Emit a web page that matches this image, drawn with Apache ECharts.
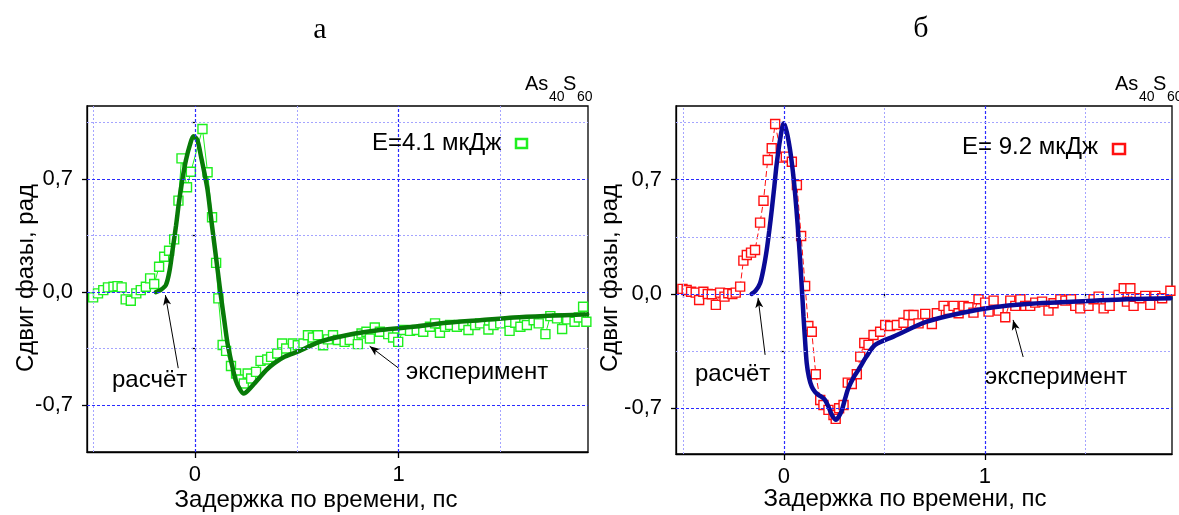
<!DOCTYPE html>
<html>
<head>
<meta charset="utf-8">
<script src="https://cdn.jsdelivr.net/npm/echarts@6.0.0/dist/echarts.min.js"></script>
<style>html,body{margin:0;padding:0;background:#fff;}#c{width:1179px;height:515px;}</style>
</head>
<body>
<div id="c"></div>
<script>
// ---------- DATA ----------
const panelTitles = ['а', 'б'];
const xMajorTicks = [0, 1];
const xMinorTicks = [-0.5, 0.5, 1.5];
const yMajorTicks = [-0.7, 0, 0.7];
const yMinorTicks = [-0.35, 0.35, 1.05];
const legendLabels = ['E=4.1 мкДж', 'E= 9.2 мкДж'];

// panel а : experiment (green squares)
const expA = [
[-0.50,-0.033],[-0.476,-0.008],[-0.45,0.012],[-0.427,0.029],[-0.40,0.033],[-0.38,0.037],[-0.36,0.029],
[-0.34,-0.045],[-0.315,-0.054],[-0.288,-0.008],[-0.266,0.012],[-0.241,0.033],[-0.22,0.085],[-0.20,0.05],
[-0.176,0.157],[-0.151,0.219],[-0.127,0.256],[-0.102,0.326],[-0.081,0.566],[-0.066,0.828],[-0.039,0.649],
[-0.02,0.745],[0.037,1.01],[0.062,0.742],[0.084,0.463],[0.104,0.181],[0.115,-0.039],[0.136,-0.328],
[0.153,-0.364],[0.177,-0.458],[0.202,-0.504],[0.227,-0.541],[0.24,-0.566],[0.259,-0.504],[0.276,-0.535],
[0.30,-0.494],[0.322,-0.426],[0.355,-0.417],[0.374,-0.401],[0.404,-0.38],[0.428,-0.318],[0.448,-0.349],
[0.481,-0.318],[0.505,-0.329],[0.533,-0.318],[0.555,-0.267],[0.579,-0.281],[0.604,-0.267],[0.629,-0.329],
[0.653,-0.293],[0.678,-0.267],[0.702,-0.297],[0.735,-0.308],[0.76,-0.297],[0.80,-0.322],[0.818,-0.256],
[0.842,-0.246],[0.859,-0.287],[0.883,-0.219],[0.908,-0.246],[0.949,-0.26],[0.973,-0.281],[0.998,-0.308],
[1.023,-0.235],[1.056,-0.24],[1.089,-0.235],[1.121,-0.246],[1.154,-0.215],[1.179,-0.194],[1.203,-0.252],
[1.228,-0.215],[1.253,-0.204],[1.286,-0.215],[1.318,-0.204],[1.343,-0.235],[1.376,-0.204],[1.40,-0.194],
[1.441,-0.232],[1.466,-0.204],[1.499,-0.194],[1.545,-0.24],[1.573,-0.19],[1.598,-0.215],[1.63,-0.204],
[1.663,-0.174],[1.688,-0.194],[1.721,-0.26],[1.745,-0.149],[1.778,-0.163],[1.803,-0.229],[1.828,-0.169],
[1.864,-0.184],[1.885,-0.157],[1.906,-0.091],[1.922,-0.184]
];
// panel а : calculation (dark green line)
const fitA = [
[-0.192,0],[-0.17,0.012],[-0.143,0.043],[-0.125,0.13],[-0.11,0.26],[-0.093,0.41],[-0.077,0.57],[-0.06,0.71],
[-0.044,0.818],[-0.025,0.91],[-0.007,0.965],[0.012,0.94],[0.03,0.838],[0.046,0.74],[0.062,0.632],[0.078,0.47],
[0.095,0.30],[0.112,0.13],[0.128,-0.03],[0.144,-0.175],[0.16,-0.318],[0.18,-0.44],[0.20,-0.545],[0.22,-0.60],
[0.24,-0.628],[0.26,-0.61],[0.292,-0.566],[0.32,-0.525],[0.35,-0.483],[0.39,-0.44],[0.44,-0.40],[0.514,-0.364],
[0.612,-0.308],[0.744,-0.267],[0.908,-0.235],[1.072,-0.215],[1.236,-0.19],[1.40,-0.174],[1.565,-0.157],
[1.729,-0.147],[1.926,-0.138]
];
// panel б : experiment (red squares)
const expB = [
[-0.504,0.031],[-0.483,0.024],[-0.461,0.014],[-0.438,0.008],[-0.421,-0.037],[-0.40,0.014],[-0.378,0],
[-0.358,-0.002],[-0.338,-0.067],[-0.317,0.008],[-0.295,-0.016],[-0.276,0.004],[-0.256,0],[-0.239,0.008],
[-0.217,0.045],[-0.201,0.204],[-0.184,0.239],[-0.163,0.253],[-0.143,0.269],[-0.118,0.437],[-0.101,0.571],
[-0.08,0.82],[-0.06,0.892],[-0.043,1.041],[-0.01,0.835],[0.01,0.841],[0.04,0.81],[0.065,0.667],[0.086,0.355],
[0.106,0.049],[0.122,-0.196],[0.139,-0.231],[0.159,-0.492],[0.181,-0.649],[0.197,-0.68],[0.222,-0.71],
[0.247,-0.741],[0.258,-0.765],[0.275,-0.70],[0.297,-0.68],[0.318,-0.543],[0.338,-0.551],[0.363,-0.492],
[0.38,-0.384],[0.40,-0.30],[0.421,-0.312],[0.446,-0.251],[0.479,-0.231],[0.504,-0.19],[0.529,-0.196],
[0.562,-0.19],[0.595,-0.176],[0.62,-0.129],[0.645,-0.129],[0.67,-0.18],[0.703,-0.122],[0.736,-0.184],
[0.761,-0.118],[0.794,-0.073],[0.819,-0.098],[0.844,-0.073],[0.869,-0.118],[0.894,-0.073],[0.918,-0.081],
[0.943,-0.114],[0.968,-0.032],[1.001,-0.053],[1.018,-0.108],[1.043,-0.041],[1.068,-0.102],[1.101,-0.143],
[1.126,-0.041],[1.151,-0.073],[1.176,-0.032],[1.20,-0.073],[1.225,-0.073],[1.25,-0.053],[1.284,-0.047],
[1.316,-0.102],[1.341,-0.057],[1.375,-0.032],[1.40,-0.041],[1.428,-0.032],[1.449,-0.073],[1.474,-0.088],
[1.515,-0.073],[1.54,-0.032],[1.565,-0.016],[1.59,-0.088],[1.62,-0.073],[1.665,-0.006],[1.69,0.035],
[1.706,-0.047],[1.723,0.035],[1.739,-0.073],[1.769,-0.026],[1.797,-0.012],[1.822,-0.067],[1.847,-0.012],
[1.881,-0.026],[1.922,0.02]
];
// panel б : calculation (navy line)
const fitB = [
[-0.16,0.0],[-0.14,0.02],[-0.118,0.065],[-0.1,0.16],[-0.085,0.269],[-0.072,0.39],[-0.06,0.514],[-0.047,0.66],
[-0.035,0.80],[-0.018,0.95],[0,1.045],[0.015,0.99],[0.031,0.882],[0.044,0.76],[0.056,0.617],[0.069,0.42],
[0.081,0.208],[0.09,0.03],[0.098,-0.139],[0.106,-0.29],[0.114,-0.424],[0.125,-0.51],[0.139,-0.568],
[0.155,-0.60],[0.172,-0.618],[0.19,-0.632],[0.205,-0.649],[0.222,-0.69],[0.239,-0.741],[0.259,-0.771],
[0.274,-0.75],[0.289,-0.71],[0.305,-0.64],[0.321,-0.577],[0.345,-0.515],[0.371,-0.465],[0.41,-0.385],
[0.454,-0.312],[0.545,-0.261],[0.711,-0.17],[0.877,-0.118],[1.043,-0.081],[1.209,-0.061],[1.375,-0.051],
[1.54,-0.041],[1.706,-0.032],[1.922,-0.026]
];
// arrows (annotation) in data coordinates: [from, to]
const arrowsA = [[[-0.082,-0.471],[-0.145,-0.019]], [[1.0,-0.471],[0.858,-0.335]]];
const arrowsB = [[[-0.093,-0.373],[-0.128,-0.024]], [[1.19,-0.386],[1.14,-0.159]]];

// ---------- CHART ----------
const FONT = 'Liberation Sans, Arial, sans-serif';
const chart = echarts.init(document.getElementById('c'), null, {renderer: 'canvas'});

const grids = [
  {left: 87, top: 106, width: 501, height: 346, xMin: -0.53, xMax: 1.93, yMin: -0.99, yMax: 1.152},
  {left: 676, top: 106, width: 496, height: 348, xMin: -0.536, xMax: 1.93, yMin: -0.98, yMax: 1.151}
];

const fmt = v => (Math.abs(v) < 1e-9 ? '0,0' : v.toFixed(1).replace('.', ','));

const option = {
  animation: false,
  backgroundColor: '#fff',
  grid: grids.map(g => ({left: g.left, top: g.top, width: g.width, height: g.height, show: true,
    borderColor: '#000', borderWidth: 1.3, backgroundColor: 'transparent'})),
  xAxis: [], yAxis: [], series: [], graphic: []
};

grids.forEach((g, i) => {
  const xi = option.xAxis.length, yi = option.yAxis.length;
  option.xAxis.push({
    type: 'value', gridIndex: i, min: g.xMin, max: g.xMax, position: 'bottom',
    axisLine: {show: true, onZero: false, lineStyle: {color: '#000', width: 1.3}},
    axisTick: {show: true, customValues: xMajorTicks, length: 6, lineStyle: {color: '#000', width: 1.3}},
    axisLabel: {show: true, customValues: xMajorTicks, margin: 12, color: '#000', fontSize: 22, fontFamily: FONT,
      formatter: v => String(Math.round(v))},
    splitLine: {show: false}
  });
  option.xAxis.push({
    type: 'value', gridIndex: i, min: g.xMin, max: g.xMax, position: 'bottom',
    axisLine: {show: false},
    axisTick: {show: true, customValues: xMinorTicks, length: 4, lineStyle: {color: '#000', width: 1.2}},
    axisLabel: {show: false}, splitLine: {show: false}
  });
  option.yAxis.push({
    type: 'value', gridIndex: i, min: g.yMin, max: g.yMax, position: 'left',
    axisLine: {show: true, onZero: false, lineStyle: {color: '#000', width: 1.3}},
    axisTick: {show: true, customValues: yMajorTicks, length: 5, lineStyle: {color: '#000', width: 1.3}},
    axisLabel: {show: true, customValues: yMajorTicks, margin: 14, color: '#000', fontSize: 22, fontFamily: FONT,
      formatter: fmt},
    splitLine: {show: false}
  });
  option.yAxis.push({
    type: 'value', gridIndex: i, min: g.yMin, max: g.yMax, position: 'left',
    axisLine: {show: false},
    axisTick: {show: true, customValues: yMinorTicks, length: 3, lineStyle: {color: '#000', width: 1.2}},
    axisLabel: {show: false}, splitLine: {show: false}
  });

  const major = {color: '#2a2aff', width: 1.2, type: [3, 2], opacity: 1};
  const minor = {color: '#a4a4ff', width: 1, type: [2, 2], opacity: 1};
  const gl = [];
  xMajorTicks.forEach(v => gl.push({xAxis: v, lineStyle: major}));
  xMinorTicks.forEach(v => gl.push({xAxis: v, lineStyle: minor}));
  yMajorTicks.forEach(v => gl.push({yAxis: v, lineStyle: major}));
  yMinorTicks.forEach(v => gl.push({yAxis: v, lineStyle: minor}));

  const exp = i === 0 ? expA : expB;
  const fit = i === 0 ? fitA : fitB;
  const arrows = i === 0 ? arrowsA : arrowsB;
  const expColor = i === 0 ? '#1fef1f' : '#ff1010';
  const fitColor = i === 0 ? '#087a08' : '#0a0a96';

  // grid lines
  option.series.push({
    type: 'line', xAxisIndex: xi, yAxisIndex: yi, z: 1, silent: true,
    data: [[g.xMin, 0], [g.xMax, 0]], symbol: 'none', lineStyle: {opacity: 0},
    markLine: {silent: true, symbol: ['none', 'none'], label: {show: false}, data: gl, animation: false,
      emphasis: {disabled: true}}
  });
  // experiment
  option.series.push({
    type: 'line', xAxisIndex: xi, yAxisIndex: yi, z: 3, data: exp,
    symbol: 'rect', symbolSize: 9, showAllSymbol: true,
    itemStyle: {color: '#fff', borderColor: expColor, borderWidth: 1.4},
    lineStyle: {color: expColor, width: 1, type: i === 0 ? 'solid' : [6, 3]}
  });
  // calculation
  option.series.push({
    type: 'line', xAxisIndex: xi, yAxisIndex: yi, z: 4, data: fit, smooth: 0.3,
    symbol: 'none', lineStyle: {color: fitColor, width: 4.5, cap: 'round'}
  });
  // arrows
  option.series.push({
    type: 'line', xAxisIndex: xi, yAxisIndex: yi, z: 5, data: [], symbol: 'none',
    markLine: {silent: true, symbol: ['none', 'arrow'], symbolSize: [6, 10], label: {show: false},
      lineStyle: {color: '#000', width: 1, type: 'solid'},
      data: arrows.map(a => [{coord: a[0]}, {coord: a[1]}])}
  });
});

// ---------- TEXT ----------
const G = option.graphic;
function txt(x, y, s, size, opts) {
  G.push(Object.assign({type: 'text', x: x, y: y, z: 10,
    style: Object.assign({text: s, fill: '#000', font: size + 'px ' + FONT, textAlign: 'left', textVerticalAlign: 'middle'},
      (opts && opts.style) || {})}, (opts && opts.el) || {}));
}
// panel letters
txt(320, 30, panelTitles[0], 30, {style: {font: '30px Liberation Serif, Times New Roman, serif', textAlign: 'center'}});
txt(921, 29, panelTitles[1], 30, {style: {font: '30px Liberation Serif, Times New Roman, serif', textAlign: 'center'}});
// As40S60
function formula(x0) {
  txt(x0, 84, 'As', 20);
  txt(x0 + 24, 97, '40', 14);
  txt(x0 + 38, 84, 'S', 20);
  txt(x0 + 52, 97, '60', 14);
}
formula(525);
formula(1115);
// axis titles
txt(26, 278, 'Сдвиг фазы, рад', 24, {style: {textAlign: 'center'}, el: {rotation: Math.PI / 2}});
txt(610, 278, 'Сдвиг фазы, рад', 24, {style: {textAlign: 'center'}, el: {rotation: Math.PI / 2}});
txt(316, 500, 'Задержка по времени, пс', 24, {style: {textAlign: 'center'}});
txt(905, 499, 'Задержка по времени, пс', 24, {style: {textAlign: 'center'}});
// legends
txt(372, 143, legendLabels[0], 24);
G.push({type: 'rect', z: 10, shape: {x: 516, y: 139, width: 11, height: 9},
  style: {fill: '#fff', stroke: '#1fef1f', lineWidth: 2.5}});
txt(962, 147, legendLabels[1], 24);
G.push({type: 'rect', z: 10, shape: {x: 1113, y: 144, width: 12, height: 10},
  style: {fill: '#fff', stroke: '#ff1010', lineWidth: 2.5}});
// annotations
txt(112, 380, 'расчёт', 24);
txt(406, 372, 'эксперимент', 24);
txt(695, 374, 'расчёт', 24);
txt(985, 377, 'эксперимент', 24);

chart.setOption(option);
</script>
</body>
</html>
